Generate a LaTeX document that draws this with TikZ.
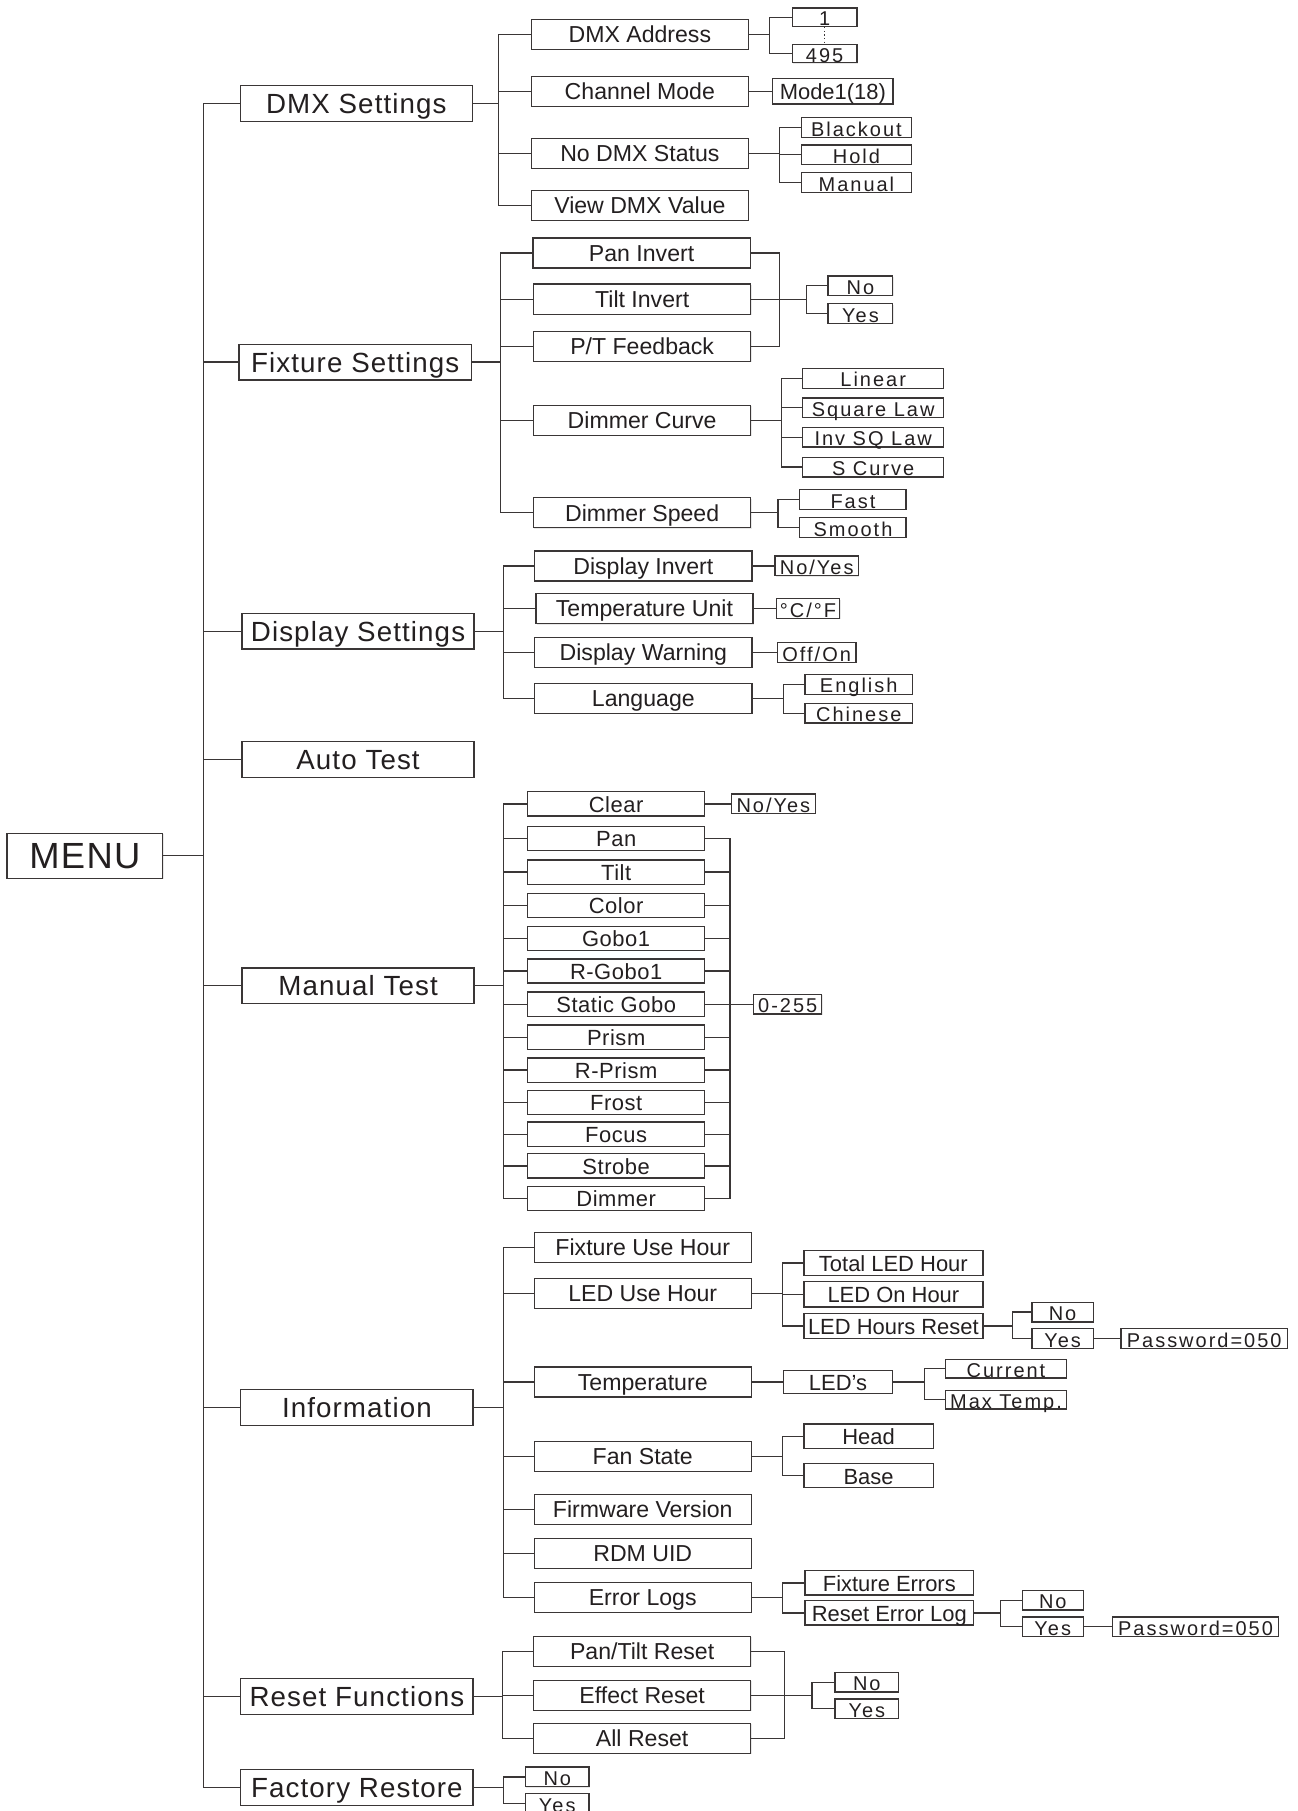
\documentclass[tikz,border=0pt]{standalone}
\usepackage{fontspec}
\setmainfont{Liberation Sans}
\newfontfamily\menufont[LetterSpace=3.5]{Liberation Sans}
\newfontfamily\topfont[LetterSpace=4]{Liberation Sans}
\newfontfamily\testfont[LetterSpace=2.5]{Liberation Sans}
\newfontfamily\leaffont[LetterSpace=10]{Liberation Sans}
\usetikzlibrary{positioning, shadows}
\definecolor{ink}{HTML}{3A3636}
\definecolor{txt}{HTML}{231F20}
\tikzset{
box/.style={draw=ink, line width=1.1pt, fill=white, text=txt, inner sep=0pt, text depth=0pt,
  drop shadow={shadow xshift=0.7pt, shadow yshift=-0.7pt, fill=black!18}}, % every box of the menu
menubox/.style={box, minimum width=135pt, minimum height=39pt, text height=22.6pt, font=\menufont\fontsize{31.5}{34}\selectfont},
topbox/.style={box, minimum width=201pt, minimum height=31pt, text height=17.2pt, font=\topfont\fontsize{24}{28}\selectfont},
itembox/.style={box, minimum width=188pt, minimum height=26pt, text height=14.3pt, font=\fontsize{20}{24}\selectfont},
testbox/.style={box, minimum width=153pt, minimum height=21pt, text height=14.6pt, font=\testfont\fontsize{19}{22}\selectfont},
midbox/.style={box, minimum height=21pt, text height=15pt, font=\fontsize{19}{22}\selectfont},
leafbox/.style={box, minimum height=17pt, text height=14.8pt, font=\leaffont\fontsize{17.3}{19}\selectfont},
}
\begin{document}
\begin{tikzpicture}[x=1pt, y=-1pt, color=ink, line width=1.1pt]
\useasboundingbox (0,0) rectangle (1123,1568);

% main menu
\node[menubox] (menu) at (73.5,741) {MENU};
\coordinate (trunk) at (176,741);
\node[topbox] (dmx) at (308.5,89.5) {DMX Settings};
\node[topbox] (fix) at (307.5,313.5) {Fixture Settings};
\node[topbox] (disp) at (310,546.5) {Display Settings};
\node[topbox] (auto) at (310,657.5) {Auto Test};
\node[topbox] (mtest) at (310,853.5) {Manual Test};
\node[topbox] (info) at (309,1218.5) {Information};
\node[topbox] (rst) at (309,1469) {Reset Functions};
\node[topbox] (fac) at (309,1547.5) {Factory Restore};
\draw (menu.east) -- (trunk);
\draw (trunk |- dmx.west) -- (trunk |- fac.west);
\foreach \t in {dmx,fix,disp,auto,mtest,info,rst,fac}
  \draw (trunk |- \t.west) -- (\t.west);

% DMX settings
\node[itembox] (addr) at (554,30) {DMX Address};
\node[itembox] (chmode) at (554,79) {Channel Mode};
\node[itembox] (nodmx) at (554,133) {No DMX Status};
\node[itembox] (view) at (554,178) {View DMX Value};
\foreach \c in {addr,chmode,nodmx,view}
  \draw (dmx.east) -- ++(22,0) |- (\c.west);
\node[leafbox, minimum width=56pt, minimum height=16pt] (a1) at (714,15) {1};
\node[leafbox, minimum width=56pt, minimum height=16pt] (a495) at (714,46.3) {495};
\foreach \c in {a1,a495}
  \draw (addr.east) -- ++(18,0) |- (\c.west);
\draw[dotted] (a1.south) -- (a495.north);
\node[midbox, minimum width=104pt, minimum height=22pt, right=20pt of chmode] (mode) {Mode1(18)};
\draw (chmode.east) -- (mode.west);
\node[leafbox, minimum width=95pt] (blk) at (741.5,110.5) {Blackout};
\node[leafbox, minimum width=95pt] (hold) at (741.5,134) {Hold};
\node[leafbox, minimum width=95pt] (man) at (741.5,158) {Manual};
\foreach \c in {blk,hold,man}
  \draw (nodmx.east) -- ++(26.5,0) |- (\c.west);

% fixture settings
\node[itembox] (pan) at (555.5,219) {Pan Invert};
\node[itembox] (tilt) at (556,259) {Tilt Invert};
\node[itembox] (ptfb) at (556,300) {P/T Feedback};
\node[itembox] (dcurve) at (556,364) {Dimmer Curve};
\node[itembox] (dspeed) at (556,444) {Dimmer Speed};
\foreach \c in {pan,tilt,ptfb,dcurve,dspeed}
  \draw (fix.east) -- ++(25,0) |- (\c.west);
\coordinate (invj) at (675,259);
\foreach \c in {pan,tilt,ptfb}
  \draw (\c.east) -| (invj);
\node[leafbox, minimum width=56pt] (invno) at (745,247.5) {No};
\node[leafbox, minimum width=56pt] (invyes) at (745,271.5) {Yes};
\foreach \c in {invno,invyes}
  \draw (invj) -- ++(23,0) |- (\c.west);
\node[leafbox, minimum width=122pt] (lin) at (756,327.6) {Linear};
\node[leafbox, minimum width=122pt] (sql) at (756,353) {Square Law};
\node[leafbox, minimum width=122pt] (isql) at (756,378.5) {Inv SQ Law};
\node[leafbox, minimum width=122pt] (scv) at (756,404.4) {S Curve};
\foreach \c in {lin,sql,isql,scv}
  \draw (dcurve.east) -- ++(26,0) |- (\c.west);
\node[leafbox, minimum width=92pt] (fast) at (738.5,432.5) {Fast};
\node[leafbox, minimum width=92pt] (smooth) at (738.5,456.7) {Smooth};
\foreach \c in {fast,smooth}
  \draw (dspeed.east) -- ++(23,0) |- (\c.west);

% display settings
\node[itembox] (dinv) at (557,490) {Display Invert};
\node[itembox] (tunit) at (558,527) {Temperature Unit};
\node[itembox] (dwarn) at (557,565) {Display Warning};
\node[itembox] (lang) at (557,604.5) {Language};
\foreach \c in {dinv,tunit,dwarn,lang}
  \draw (disp.east) -- ++(25,0) |- (\c.west);
\node[leafbox, minimum width=72pt, right=19pt of dinv] (dinvny) {No/Yes};
\node[leafbox, minimum width=55pt, right=19pt of tunit] (cf) {°C/°F};
\node[leafbox, minimum width=68pt, right=21pt of dwarn] (offon) {Off/On};
\draw (dinv.east) -- (dinvny.west);
\draw (tunit.east) -- (cf.west);
\draw (dwarn.east) -- (offon.west);
\node[leafbox, minimum width=93pt] (eng) at (743.5,592.5) {English};
\node[leafbox, minimum width=93pt] (chn) at (743.5,617.5) {Chinese};
\foreach \c in {eng,chn}
  \draw (lang.east) -- ++(27,0) |- (\c.west);

% manual test
\foreach \n/\t/\y in {clr/Clear/696, mpan/Pan/726, mtilt/Tilt/755, mcolor/Color/784,
    mgobo/Gobo1/812.4, mrgobo/R-Gobo1/840.7, msgobo/Static Gobo/869.4, mprism/Prism/898,
    mrprism/R-Prism/926.5, mfrost/Frost/954.5, mfocus/Focus/982, mstrobe/Strobe/1009.5,
    mdimmer/Dimmer/1037.5}
  \node[testbox] (\n) at (533.5,\y) {\t};
\foreach \n in {clr,mpan,mtilt,mcolor,mgobo,mrgobo,msgobo,mprism,mrprism,mfrost,mfocus,mstrobe,mdimmer}
  \draw (mtest.east) -- ++(25,0) |- (\n.west);
\node[leafbox, minimum width=73pt, right=22pt of clr] (clrny) {No/Yes};
\draw (clr.east) -- (clrny.west);
\coordinate (valj) at (632,869.4);
\foreach \n in {mpan,mtilt,mcolor,mgobo,mrgobo,msgobo,mprism,mrprism,mfrost,mfocus,mstrobe,mdimmer}
  \draw (\n.east) -| (valj);
\node[leafbox, minimum width=59pt, right=20pt of valj] (val) {0-255};
\draw (valj) -- (val.west);

% information
\node[itembox] (fuh) at (556.5,1080) {Fixture Use Hour};
\node[itembox] (luh) at (556.5,1120) {LED Use Hour};
\node[itembox] (temp) at (556.5,1196.5) {Temperature};
\node[itembox] (fan) at (556.5,1261) {Fan State};
\node[itembox] (fw) at (556.5,1307) {Firmware Version};
\node[itembox] (rdm) at (556.5,1345) {RDM UID};
\node[itembox] (elog) at (556.5,1383) {Error Logs};
\foreach \c in {fuh,luh,temp,fan,fw,rdm,elog}
  \draw (info.east) -- ++(26,0) |- (\c.west);
\node[midbox, minimum width=155pt, minimum height=22pt] (tled) at (773.5,1093.5) {Total LED Hour};
\node[midbox, minimum width=155pt, minimum height=22pt] (ledon) at (773.5,1120.5) {LED On Hour};
\node[midbox, minimum width=155pt, minimum height=22pt] (ledrst) at (773.5,1148) {LED Hours Reset};
\foreach \c in {tled,ledon,ledrst}
  \draw (luh.east) -- ++(26.5,0) |- (\c.west);
\node[leafbox, minimum width=53pt] (lno) at (920,1136) {No};
\node[leafbox, minimum width=53pt] (lyes) at (920,1159) {Yes};
\foreach \c in {lno,lyes}
  \draw (ledrst.east) -- ++(25,0) |- (\c.west);
\node[leafbox, minimum width=144pt, right=23pt of lyes] (lpass) {Password=050};
\draw (lyes.east) -- (lpass.west);
\node[midbox, minimum width=94pt, minimum height=20pt, right=27pt of temp] (leds) {LED's};
\draw (temp.east) -- (leds.west);
\node[leafbox, minimum width=105pt, minimum height=16pt] (cur) at (871,1185) {Current};
\node[leafbox, minimum width=105pt, minimum height=16pt] (maxt) at (871,1212) {Max Temp.};
\foreach \c in {cur,maxt}
  \draw (leds.east) -- ++(27.5,0) |- (\c.west);
\node[midbox, minimum width=112pt] (head) at (752,1243.5) {Head};
\node[midbox, minimum width=112pt] (base) at (752,1277.5) {Base};
\foreach \c in {head,base}
  \draw (fan.east) -- ++(26.5,0) |- (\c.west);
\node[midbox, minimum width=146pt] (ferr) at (770,1370.5) {Fixture Errors};
\node[midbox, minimum width=146pt] (rerr) at (770,1396.5) {Reset Error Log};
\foreach \c in {ferr,rerr}
  \draw (elog.east) -- ++(26.5,0) |- (\c.west);
\node[leafbox, minimum width=53pt] (eno) at (911.5,1385.5) {No};
\node[leafbox, minimum width=53pt] (eyes) at (911.5,1408.5) {Yes};
\foreach \c in {eno,eyes}
  \draw (rerr.east) -- ++(23,0) |- (\c.west);
\node[leafbox, minimum width=144pt, right=24pt of eyes] (epass) {Password=050};
\draw (eyes.east) -- (epass.west);

% reset functions
\node[itembox] (ptr) at (556,1430) {Pan/Tilt Reset};
\node[itembox] (efr) at (556,1468) {Effect Reset};
\node[itembox] (allr) at (556,1505) {All Reset};
\foreach \c in {ptr,efr,allr}
  \draw (rst.east) -- ++(25,0) |- (\c.west);
\coordinate (rstj) at (679,1468);
\foreach \c in {ptr,efr,allr}
  \draw (\c.east) -| (rstj);
\node[leafbox, minimum width=55pt] (rno) at (750.5,1456.5) {No};
\node[leafbox, minimum width=55pt] (ryes) at (750.5,1479.5) {Yes};
\foreach \c in {rno,ryes}
  \draw (rstj) -- ++(24,0) |- (\c.west);

% factory restore
\node[leafbox, minimum width=55pt] (fno) at (482.5,1538.5) {No};
\node[leafbox, minimum width=55pt] (fyes) at (482.5,1561.5) {Yes};
\foreach \c in {fno,fyes}
  \draw (fac.east) -- ++(26,0) |- (\c.west);
\end{tikzpicture}
\end{document}
